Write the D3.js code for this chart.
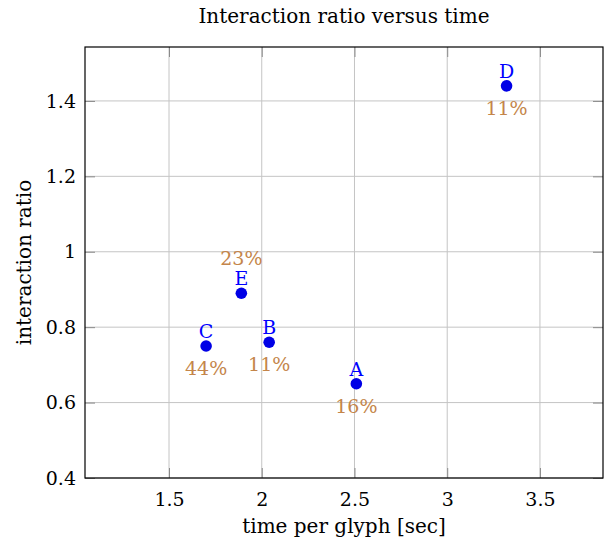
<!DOCTYPE html>
<html><head><meta charset="utf-8">
<script src="https://cdn.jsdelivr.net/npm/d3@7"></script>
<style>body{margin:0;background:#fff}</style>
</head><body>
<svg id="c" width="606" height="543"></svg>
<script>
const labels = ["A","B","C","D","E"];
const timePerGlyph = [2.51, 2.04, 1.70, 3.32, 1.89];
const interactionRatio = [0.65, 0.76, 0.75, 1.44, 0.89];
const percents = ["16%","11%","44%","11%","23%"];
const percentAbove = [false,false,false,false,true];
const xTicks = [1.5, 2, 2.5, 3, 3.5];
const yTicks = [0.4, 0.6, 0.8, 1.0, 1.2, 1.4];

const FONT = "DejaVu Serif";
const svg = d3.select("#c");
const L=85, R=603, T=47, B=478;
const x = d3.scaleLinear().domain([1.047, 3.84]).range([L, R]);
const y = d3.scaleLinear().domain([0.4, 1.543]).range([B, T]);

// grid
svg.append("g").selectAll("line").data(xTicks).join("line")
  .attr("x1", d=>x(d)).attr("x2", d=>x(d)).attr("y1", T).attr("y2", B)
  .attr("stroke", "#c4c4c4").attr("stroke-width", 1);
svg.append("g").selectAll("line").data(yTicks).join("line")
  .attr("y1", d=>y(d)).attr("y2", d=>y(d)).attr("x1", L).attr("x2", R)
  .attr("stroke", "#c4c4c4").attr("stroke-width", 1);

// axes with inner ticks
const xAxis = svg.append("g").attr("transform", `translate(0,${B})`)
  .call(d3.axisBottom(x).tickValues(xTicks).tickSize(-10).tickPadding(15).tickFormat(d => String(d)));
const xAxisTop = svg.append("g").attr("transform", `translate(0,${T})`)
  .call(d3.axisTop(x).tickValues(xTicks).tickSize(-10).tickFormat(""));
const yAxis = svg.append("g").attr("transform", `translate(${L},0)`)
  .call(d3.axisLeft(y).tickValues(yTicks).tickSize(-10).tickPadding(9).tickFormat(d => d===1 ? "1" : d.toFixed(1)));
const yAxisR = svg.append("g").attr("transform", `translate(${R},0)`)
  .call(d3.axisRight(y).tickValues(yTicks).tickSize(-10).tickFormat(""));
[xAxis,xAxisTop,yAxis,yAxisR].forEach(g=>{
  g.attr("font-family", FONT).attr("font-size", 19);
  g.select(".domain").remove();
  g.selectAll(".tick line").attr("stroke","#8a8a8a");
  g.selectAll(".tick text").attr("fill","#000");
});

// frame
svg.append("rect").attr("x",L).attr("y",T).attr("width",R-L).attr("height",B-T)
  .attr("fill","none").attr("stroke","#000").attr("stroke-width",1.2);

// data
const data = labels.map((l,i)=>({l, x:timePerGlyph[i], y:interactionRatio[i], p:percents[i], above:percentAbove[i]}));
svg.append("g").selectAll("circle").data(data).join("circle")
  .attr("cx", d=>x(d.x)).attr("cy", d=>y(d.y)).attr("r", 5.8).attr("fill", "#0000e6");
svg.append("g").attr("font-family", FONT).selectAll("text").data(data).join("text")
  .attr("x", d=>x(d.x)).attr("y", d=>y(d.y)-8).attr("text-anchor","middle")
  .attr("font-size",19).attr("fill","#0000ff").text(d=>d.l);
svg.append("g").attr("font-family", FONT).selectAll("text").data(data).join("text")
  .attr("x", d=>x(d.x)).attr("y", d=>d.above ? y(d.y)-28 : y(d.y)+29).attr("text-anchor","middle")
  .attr("font-size",19).attr("fill","#c4854a").text(d=>d.p);

// titles
const tg = svg.append("g").attr("font-family", FONT).attr("font-size", 20).attr("fill","#000");
tg.append("text").attr("x",(L+R)/2).attr("y",23).attr("text-anchor","middle")
  .text("Interaction ratio versus time");
tg.append("text").attr("x",(L+R)/2).attr("y",533).attr("text-anchor","middle")
  .text("time per glyph [sec]");
tg.append("text").attr("transform",`translate(31,${(T+B)/2}) rotate(-90)`).attr("text-anchor","middle")
  .text("interaction ratio");
</script>
</body></html>
